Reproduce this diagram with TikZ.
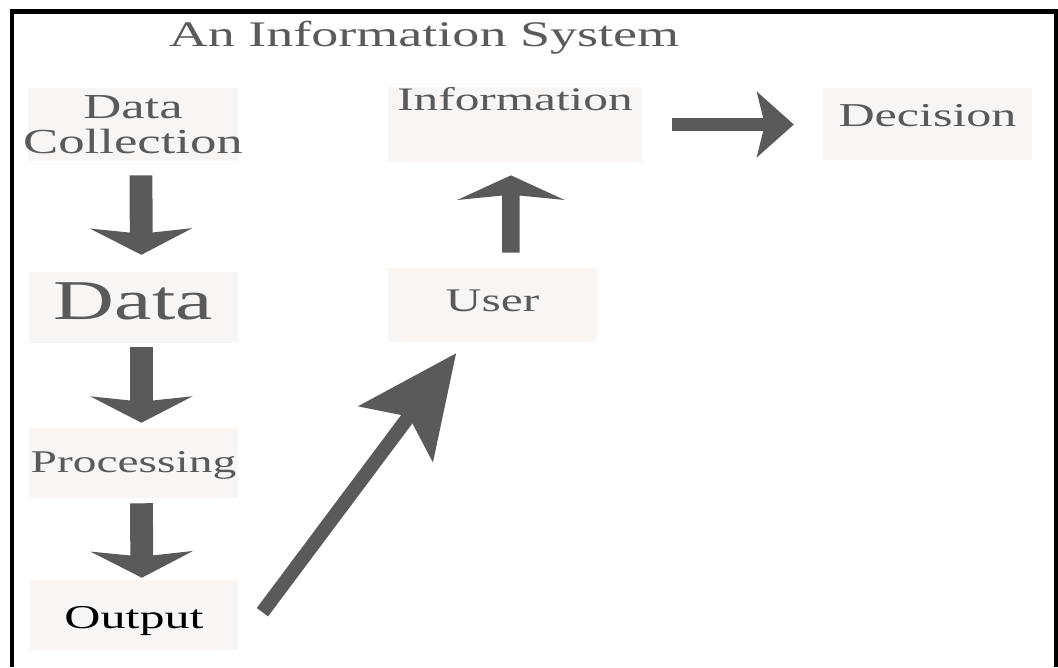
\documentclass[tikz,border=0pt]{standalone}
\usepackage{fontspec}
\setmainfont{Liberation Serif}[FakeStretch=1.5]
\usetikzlibrary{arrows.meta}
\definecolor{inkgray}{HTML}{5A5A5A}
\definecolor{boxtint}{HTML}{F8F5F3}
\newcommand\txtsize[1]{\fontsize{#1}{#1}\selectfont}
\tikzset{box/.style = {fill=boxtint, text=inkgray, inner sep=0, align=center,
                       minimum width=4.18cm, minimum height=1.44cm}}
% line width, head length, head width, inset
\tikzset{bigarrow/.style n args = {4}{draw=inkgray, line width=#1,
                                      -{Stealth[length=#2, width=#3, inset=#4]}}}

\begin{document}
\begin{tikzpicture}[x=0.02cm, y=-0.02cm]
  \useasboundingbox (0,0) rectangle (1058,667);
  \draw [line width=2.3pt] (12,667) -- (12,11.5) -- (1056,11.5) -- (1056,667);
  \node (title) [anchor=base, text=inkgray, font=\txtsize{20.5}] at (424,46) {An Information System};

  \node (dcoll) [box, inner xsep=-6pt, minimum width=4.2cm, minimum height=1.46cm, font=\txtsize{20}] at (133,124.5) {Data\\Collection};
  \node (data) [box, minimum height=1.42cm, text depth=0.24cm, font=\txtsize{32}] at (133.5,307.5) {Data};
  \node (proc) [box, minimum height=1.4cm, text height=0.36cm, text depth=0cm, font=\txtsize{18}] at (133.5,463) {Processing};
  \node (outp) [box, minimum width=4.16cm, minimum height=1.4cm, text=black, text height=0.52cm, text depth=0cm, font=\txtsize{19}] at (134,615) {Output};
  \node (user) [box, minimum height=1.48cm, text depth=0.18cm, font=\txtsize{18.8}] at (492.5,305) {User};
  \node (info) [box, minimum width=5.08cm, minimum height=1.5cm, text height=0.3cm, text depth=0.88cm, font=\txtsize{18.7}] at (515,124.5) {Information};
  \node (deci) [box, text depth=0.34cm, font=\txtsize{19}] at (927.5,124) {Decision};

  \draw [bigarrow={13pt}{15pt}{58pt}{3pt}, shorten <=8pt, shorten >=9.6pt] ([xshift=4.5pt]dcoll.south) -- ([xshift=4.5pt]data.north);
  \draw [bigarrow={13pt}{15pt}{58pt}{3pt}, shorten <=2.3pt, shorten >=2.8pt] ([xshift=4.5pt]data.south) -- ([xshift=4.5pt]proc.north);
  \draw [bigarrow={13pt}{15pt}{58pt}{3pt}, shorten <=2.8pt, shorten >=1.1pt] ([xshift=4.5pt]proc.south) -- ([xshift=4.5pt]outp.north);
  \draw [bigarrow={8pt}{57pt}{52pt}{12pt}, shorten <=2pt, shorten >=7.7pt] ([xshift=12.5pt]outp.east) -- ([xshift=43.6pt]user.south west);
  \draw [bigarrow={10pt}{14pt}{61pt}{3pt}, shorten <=8.5pt, shorten >=7.4pt] ([xshift=10.5pt]user.north) -- ([xshift=-2.3pt]info.south);
  \draw [bigarrow={7pt}{21pt}{37pt}{4.5pt}, shorten <=17pt, shorten >=16.4pt] (info.east) -- (info.east -| deci.west);
\end{tikzpicture}
\end{document}
